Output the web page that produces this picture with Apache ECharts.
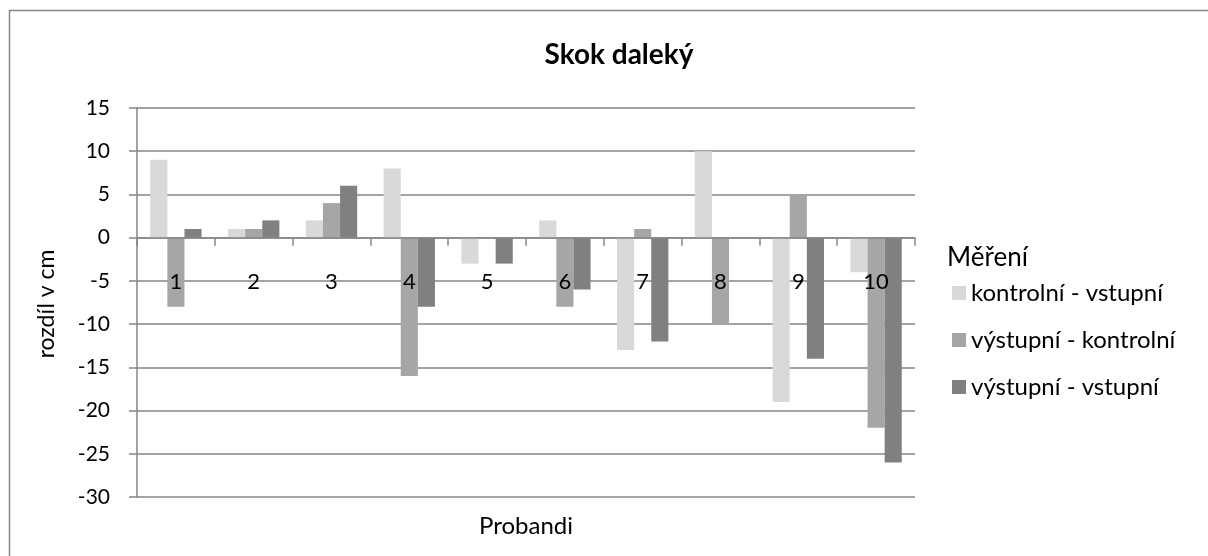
<!DOCTYPE html>
<html>
<head>
	<meta charset="UTF-8">
	<title>Skok daleký</title>
	<script src="https://cdn.jsdelivr.net/npm/echarts@6/dist/echarts.min.js"></script>
	<style>
		html, body { margin: 0; padding: 0; background: #fff; }
		#main { width: 1208px; height: 556px; }
	</style>
</head>
<body>
	<div id="main"></div>
	<script type="text/javascript">
		// data
		var probandi = ['1', '2', '3', '4', '5', '6', '7', '8', '9', '10'];
		var seriesNames = ['kontrolní - vstupní', 'výstupní - kontrolní', 'výstupní - vstupní'];
		var kontrolniVstupni = [9, 1, 2, 8, -3, 2, -13, 10, -19, -4];
		var vystupniKontrolni = [-8, 1, 4, -16, 0, -8, 1, -10, 5, -22];
		var vystupniVstupni = [1, 2, 6, -8, -3, -6, -12, 0, -14, -26];
		var yMin = -30, yMax = 15, yStep = 5;
		var barColors = ['#d9d9d9', '#a6a6a6', '#808080'];

		var font = 'Lato';
		var chart = echarts.init(document.getElementById('main'));

		// plot area
		var gridTop = 108, gridBottom = 59;
		var plotH = 556 - gridTop - gridBottom;
		// x axis sits on the zero line
		var zeroOffset = -plotH * (0 - yMin) / (yMax - yMin);

		var allData = [kontrolniVstupni, vystupniKontrolni, vystupniVstupni];
		var series = [];
		for (var i = 0; i < allData.length; i++) {
			series.push({
				name: seriesNames[i],
				type: 'bar',
				data: allData[i],
				barGap: '0%',
				barCategoryGap: '34%',
				itemStyle: { color: barColors[i] },
				silent: true
			});
		}

		chart.setOption({
			animation: false,
			textStyle: { fontFamily: font },
			title: {
				text: 'Skok daleký',
				left: 614,
				textAlign: 'center',
				top: 36,
				textStyle: { fontFamily: font, fontSize: 28, fontWeight: 'bold', color: '#000' }
			},
			legend: {
				orient: 'vertical',
				left: 947,
				top: 276,
				itemWidth: 14,
				itemHeight: 14,
				itemGap: 23,
				icon: 'rect',
				data: seriesNames,
				textStyle: { fontFamily: font, fontSize: 24, color: '#000' }
			},
			grid: { left: 137, right: 293, top: gridTop, bottom: gridBottom },
			xAxis: {
				type: 'category',
				data: probandi,
				position: 'bottom',
				offset: zeroOffset,
				z: 5,
				axisLine: { onZero: false, lineStyle: { color: '#868686', width: 1.5 } },
				axisTick: { show: true, length: 8, lineStyle: { color: '#868686', width: 1.5 } },
				axisLabel: { margin: 33, fontSize: 22, color: '#000', fontFamily: font },
				splitLine: { show: false }
			},
			yAxis: {
				type: 'value',
				min: yMin,
				max: yMax,
				interval: yStep,
				axisLine: { show: true, lineStyle: { color: '#868686', width: 1.5 } },
				axisTick: { show: true, length: 8, lineStyle: { color: '#868686', width: 1.5 } },
				axisLabel: { fontSize: 21, color: '#000', margin: 27, fontFamily: font },
				splitLine: { lineStyle: { color: '#868686', width: 1.5 } }
			},
			graphic: [
				{
					type: 'rect',
					shape: { x: 9.5, y: 10.5, width: 1400, height: 800 },
					style: { fill: 'none', stroke: '#868686', lineWidth: 1.5 },
					silent: true
				},
				{
					type: 'text',
					x: 47,
					y: 304,
					rotation: Math.PI / 2,
					style: {
						text: 'rozdíl v cm',
						fontSize: 23,
						fontFamily: font,
						fill: '#000',
						align: 'center',
						verticalAlign: 'middle'
					}
				},
				{
					type: 'text',
					x: 526,
					y: 526,
					style: {
						text: 'Probandi',
						fontSize: 24,
						fontFamily: font,
						fill: '#000',
						align: 'center',
						verticalAlign: 'middle'
					}
				},
				{
					type: 'text',
					x: 947,
					y: 258,
					style: {
						text: 'Měření',
						fontSize: 26,
						fontFamily: font,
						fill: '#000',
						align: 'left',
						verticalAlign: 'middle'
					}
				}
			],
			series: series
		});
	</script>
</body>
</html>
